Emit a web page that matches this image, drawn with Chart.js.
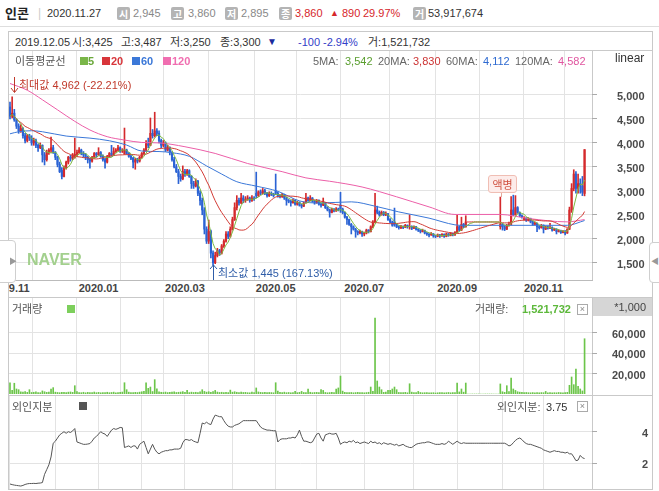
<!DOCTYPE html>
<html><head><meta charset="utf-8">
<script src="https://cdn.jsdelivr.net/npm/chart.js@4.4.1/dist/chart.umd.min.js"></script>
<style>
html,body{margin:0;padding:0;background:#fff;}
body{width:659px;height:491px;position:relative;overflow:hidden;font-family:"Liberation Sans","Noto Sans CJK KR",sans-serif;font-size:11px;color:#333;}
.t{position:absolute;white-space:nowrap;line-height:14px;height:14px;}
.ln{position:absolute;background:#c9c9c9;}
.ic{position:absolute;width:13px;height:13px;top:7px;background:#b4b4b4;color:#fff;border-radius:2px;font-size:10px;line-height:13px;text-align:center;font-family:"Noto Sans CJK KR",sans-serif;font-weight:bold;}
.sq{position:absolute;width:8px;height:8px;}
.xb{position:absolute;width:9px;height:9px;border:1px solid #aaa;color:#888;font-size:9px;line-height:9px;text-align:center;background:#fff;}
canvas{position:absolute;}
#xl{position:absolute;left:9px;top:280px;width:583px;height:17px;overflow:hidden;}
#xl div{position:absolute;top:1px;transform:translateX(-50%);font:bold 11px "Liberation Sans",sans-serif;color:#444;line-height:15px;white-space:nowrap;}
</style></head><body>

<!-- header -->
<div class="t" style="left:5px;top:4px;font-size:13px;font-weight:bold;font-family:'Noto Sans CJK KR';color:#222;line-height:18px;height:18px">인콘</div>
<div class="t" style="left:38px;top:6px;color:#ccc;font-size:12px">|</div>
<div class="t" style="left:47px;top:6px;color:#333">2020.11.27</div>
<div class="ic" style="left:117px">시</div><div class="t" style="left:133px;top:6px;color:#888">2,945</div>
<div class="ic" style="left:171px">고</div><div class="t" style="left:188px;top:6px;color:#888">3,860</div>
<div class="ic" style="left:225px">저</div><div class="t" style="left:241px;top:6px;color:#888">2,895</div>
<div class="ic" style="left:279px">종</div><div class="t" style="left:295px;top:6px;color:#d6262b">3,860</div>
<div class="t" style="left:330px;top:6px;color:#d6262b;font-size:9px">▲</div>
<div class="t" style="left:342px;top:6px;color:#d6262b">890</div>
<div class="t" style="left:363px;top:6px;color:#d6262b">29.97%</div>
<div class="ic" style="left:413px">거</div><div class="t" style="left:428px;top:6px;color:#333">53,917,674</div>

<!-- frame -->
<div class="ln" style="left:0;top:26px;width:659px;height:1px;background:#dedede"></div>
<div class="ln" style="left:8px;top:31px;width:645px;height:1px"></div>
<div class="ln" style="left:8px;top:31px;width:1px;height:459px"></div>
<div class="ln" style="left:652px;top:31px;width:1px;height:459px"></div>
<div class="ln" style="left:8px;top:50px;width:645px;height:1px"></div>
<div class="ln" style="left:592px;top:50px;width:1px;height:230px"></div>
<div class="ln" style="left:8px;top:280px;width:585px;height:1px;background:#bbb"></div>
<div class="ln" style="left:8px;top:297px;width:645px;height:1px"></div>
<div class="ln" style="left:592px;top:297px;width:1px;height:98px"></div>
<div class="ln" style="left:8px;top:395px;width:645px;height:1px"></div>
<div class="ln" style="left:592px;top:395px;width:1px;height:95px"></div>
<div class="ln" style="left:8px;top:489px;width:645px;height:1px"></div>

<!-- info row -->
<div class="t" style="left:15px;top:35px">2019.12.05</div>
<div class="t" style="left:72px;top:35px">시:3,425</div>
<div class="t" style="left:121px;top:35px">고:3,487</div>
<div class="t" style="left:170px;top:35px">저:3,250</div>
<div class="t" style="left:220px;top:35px">종:3,300</div>
<div class="t" style="left:267px;top:35px;color:#1b2b9c;font-size:10px">▼</div>
<div class="t" style="left:298px;top:35px;color:#3340c8">-100</div>
<div class="t" style="left:323px;top:35px;color:#3340c8">-2.94%</div>
<div class="t" style="left:368px;top:35px">거:1,521,732</div>

<canvas id="pc" width="643" height="229" style="left:9px;top:51px"></canvas>
<canvas id="vc" width="643" height="96" style="left:9px;top:298px"></canvas>
<canvas id="fc" width="643" height="93" style="left:9px;top:396px"></canvas>
<div id="xl"></div>

<!-- price legend -->
<div class="t" style="left:15px;top:54px;color:#555">이동평균선</div>
<div class="sq" style="left:80px;top:57px;background:#7ab648"></div><div class="t" style="left:88px;top:54px;color:#6aa83a;font-weight:bold">5</div>
<div class="sq" style="left:102px;top:57px;background:#d8353a"></div><div class="t" style="left:111px;top:54px;color:#d8353a;font-weight:bold">20</div>
<div class="sq" style="left:132px;top:57px;background:#3b78d8"></div><div class="t" style="left:141px;top:54px;color:#3b78d8;font-weight:bold">60</div>
<div class="sq" style="left:163px;top:57px;background:#f06eb0"></div><div class="t" style="left:172px;top:54px;color:#f06eb0;font-weight:bold">120</div>
<div class="t" style="left:313px;top:54px;color:#666">5MA:</div><div class="t" style="left:345px;top:54px;color:#5a9e2f">3,542</div>
<div class="t" style="left:378px;top:54px;color:#666">20MA:</div><div class="t" style="left:413px;top:54px;color:#cc3333">3,830</div>
<div class="t" style="left:446px;top:54px;color:#666">60MA:</div><div class="t" style="left:483px;top:54px;color:#2e6ad1">4,112</div>
<div class="t" style="left:515px;top:54px;color:#666">120MA:</div><div class="t" style="left:558px;top:54px;color:#e0559f">4,582</div>
<div class="t" style="left:615px;top:51px;color:#333;font-size:12px">linear</div>

<!-- annotations -->
<svg style="position:absolute;left:10px;top:77px" width="9" height="17"><path d="M4.5 0 V15 M1 11 L4.5 15.5 L8 11" stroke="#c0392b" fill="none" stroke-width="1"/></svg>
<div class="t" style="left:19px;top:78px;color:#c0392b">최대값 4,962 (-22.21%)</div>
<svg style="position:absolute;left:209px;top:264px" width="9" height="16"><path d="M4.5 1 V16 M1 5 L4.5 1 L8 5" stroke="#2f5da8" fill="none" stroke-width="1"/></svg>
<div class="t" style="left:218px;top:266px;color:#2f5da8">최소값 1,445 (167.13%)</div>
<div style="position:absolute;left:488px;top:175px;width:27px;height:16px;background:#fdecea;border:1px solid #f0beb4;border-radius:3px;color:#d0503f;font-size:11px;line-height:16px;text-align:center;font-family:'Noto Sans CJK KR'">액병</div>
<div style="position:absolute;left:501px;top:193px;width:1px;height:4px;background:#e6a899"></div>
<div class="t" style="left:27px;top:251px;font-size:16px;font-weight:bold;color:#a3d08e;line-height:18px;height:18px">NAVER</div>

<!-- side tabs -->
<div style="position:absolute;left:-5px;top:240px;width:19px;height:41px;border:1px solid #cfcfcf;border-radius:4px;background:#fff"></div>
<div class="t" style="left:9px;top:255px;color:#999;font-size:8px">▶</div>
<div style="position:absolute;left:649px;top:242px;width:19px;height:39px;border:1px solid #cfcfcf;border-radius:4px;background:#fff"></div>
<div class="t" style="left:651px;top:255px;color:#999;font-size:8px">◀</div>

<!-- volume header -->
<div class="t" style="left:12px;top:302px;color:#555">거래량</div>
<div class="sq" style="left:67px;top:305px;background:#7dcf5c"></div>
<div class="t" style="left:475px;top:302px;color:#555">거래량:</div>
<div class="t" style="left:522px;top:302px;color:#5cb83a;font-weight:bold">1,521,732</div>
<div class="xb" style="left:577px;top:304px">×</div>
<div style="position:absolute;left:593px;top:298px;width:59px;height:18px;background:#d6d6d6"></div>
<div class="t" style="left:600px;top:300px;width:46px;text-align:right;color:#444">*1,000</div>

<!-- foreign header -->
<div class="t" style="left:12px;top:400px;color:#555">외인지분</div>
<div class="sq" style="left:79px;top:402px;background:#555"></div>
<div class="t" style="left:497px;top:400px;color:#555">외인지분:</div>
<div class="t" style="left:546px;top:400px;color:#333">3.75</div>
<div class="xb" style="left:577px;top:401px">×</div>

<script>
// ---------- data ----------
const months = ['2019.11','2019.12','2020.01','2020.02','2020.03','2020.04','2020.05','2020.06','2020.07','2020.08','2020.09','2020.10','2020.11'];
const tradingDays = [21,20,20,20,22,20,19,22,23,20,21,19,20];
const axisLabels = ['2019.11','2020.01','2020.03','2020.05','2020.07','2020.09','2020.11'];
const priceTicks = [1500,2000,2500,3000,3500,4000,4500,5000];
const volumeTicks = [20000,40000,60000];
const foreignTicks = [2,4];

const openPrice = [
4750,4560,4620,4480,4350,4250,4300,4150,4050,4150,
4100,4000,4050,3950,3900,3950,3750,3650,3800,3850,
3900,3800,3700,3550,3425,3300,3480,3600,3700,3680,
3700,3760,3800,3850,3780,3750,3700,3650,3620,3700,
3780,3750,3800,3720,3650,3600,3720,3780,3750,3820,
3850,3900,3830,3780,3850,3780,3720,3680,3600,3650,
3620,3700,3780,3850,3980,3950,4200,4150,4250,4200,
4050,3950,4000,3850,3900,3800,3650,3500,3400,3300,
3250,3400,3350,3420,3300,3150,3100,3200,2950,2800,
2600,2200,1950,2150,1700,1500,1650,1750,1700,1850,
1950,2100,2050,2200,2400,2650,2800,2750,2850,2800,
2820,2850,2800,2850,2950,2900,2980,2950,3000,2950,
2900,2950,2930,3000,2950,2900,2880,2920,2850,2800,
2780,2750,2800,2720,2760,2700,2680,2750,2850,2800,
2850,2780,2750,2800,2720,2700,2750,2650,2600,2550,
2620,2580,2620,2700,2620,2550,2450,2400,2300,2250,
2200,2150,2120,2150,2100,2120,2180,2150,2250,2350,
2600,2550,2500,2550,2500,2520,2400,2350,2350,2290,
2250,2230,2260,2240,2280,2250,2260,2220,2250,2200,
2180,2150,2170,2120,2100,2080,2100,2060,2050,2080,
2060,2090,2050,2100,2070,2110,2080,2130,2250,2180,
2300,2250,2350,2350,2350,2350,2350,2350,2350,2350,
2350,2350,2350,2350,2350,2350,2350,2250,2300,2250,
2200,2280,2300,2600,2500,2650,2550,2480,2400,2430,
2380,2420,2350,2300,2320,2250,2230,2280,2200,2250,
2220,2240,2180,2200,2150,2170,2130,2160,2120,2200,
2600,3050,3350,3050,3150,3100,2945];
const highPrice = [
4850,4962,4700,4500,4400,4380,4320,4200,4180,4180,
4150,4100,4080,3980,4000,3960,3800,3850,3880,4120,
3950,3820,3720,3600,3487,3520,3620,3720,3740,3780,
4100,3850,3900,3870,3820,3780,3720,3680,3720,3800,
3800,3900,3820,3750,3680,3740,3800,3950,3900,3880,
3950,3920,3880,4310,3870,3800,3740,3700,3680,3680,
3720,3800,3880,4050,4100,4520,4280,4640,4300,4250,
4080,4050,4020,3950,3920,3820,3700,3550,3450,3350,
3520,3450,3450,3440,3320,3200,3250,3220,3000,2850,
2650,2250,2390,2180,1750,1720,1800,1780,1880,1980,
2150,2150,2250,2450,2750,2900,2850,2950,2900,2880,
2900,2870,2900,2880,3390,3000,3020,3050,3030,2970,
2980,2980,2950,3350,2980,2920,2950,2930,2870,2820,
2800,2830,2810,2780,2770,2720,2770,2950,2870,2900,
2860,2800,2820,2810,2740,2850,2760,2670,2620,2640,
2630,2650,2640,2970,2640,2560,2470,2410,2320,2270,
2220,2170,2180,2160,2140,2200,2190,2270,2380,2950,
2680,2580,2580,2570,2560,2530,2420,2370,2640,2310,
2270,2280,2270,2300,2290,2500,2270,2270,2260,2210,
2190,2200,2180,2130,2110,2130,2110,2070,2100,2090,
2110,2100,2120,2110,2130,2120,2150,2490,2270,2450,
2320,2480,2350,2350,2350,2350,2350,2350,2350,2350,
2350,2350,2350,2350,2350,2350,2350,2870,2320,2270,
2300,2350,2880,2910,2900,2670,2560,2500,2460,2440,
2440,2430,2370,2350,2330,2270,2300,2290,2260,2260,
2320,2250,2220,2210,2190,2180,2170,2170,2210,2660,
3150,3440,3400,3350,3250,3300,3860];
const lowPrice = [
4500,4520,4450,4300,4200,4220,4100,4000,4020,4050,
3950,3950,3900,3820,3880,3600,3540,3620,3760,3800,
3780,3650,3500,3380,3250,3290,3450,3560,3620,3650,
3680,3720,3780,3750,3700,3650,3580,3475,3600,3680,
3700,3740,3700,3620,3475,3580,3700,3720,3740,3800,
3830,3800,3800,3760,3760,3700,3650,3480,3450,3580,
3600,3680,3760,3830,3900,3940,4100,4120,4150,4000,
3900,3920,3820,3830,3750,3620,3480,3380,3150,3200,
3230,3300,3320,3280,3050,3050,3080,2900,2700,2500,
2100,1900,1900,1600,1445,1480,1620,1650,1680,1820,
1930,2000,2030,2180,2380,2600,2700,2730,2750,2760,
2800,2760,2780,2800,2850,2880,2920,2930,2920,2870,
2880,2900,2870,2920,2870,2850,2860,2820,2700,2750,
2680,2740,2700,2700,2680,2640,2670,2740,2780,2790,
2760,2720,2740,2700,2660,2690,2630,2580,2450,2540,
2560,2570,2580,2550,2520,2430,2300,2280,2100,2180,
2030,2080,2100,2050,2060,2100,2120,2140,2230,2330,
2520,2470,2490,2480,2480,2380,2330,2260,2260,2230,
2200,2210,2210,2230,2220,2200,2190,2210,2180,2150,
2120,2140,2100,2070,2040,2070,2030,2020,2040,2030,
2050,2030,2040,2050,2060,2060,2070,2120,2160,2170,
2230,2240,2350,2350,2350,2350,2350,2350,2350,2350,
2350,2350,2350,2350,2350,2350,2350,2200,2180,2170,
2190,2260,2290,2480,2490,2530,2460,2430,2390,2360,
2370,2330,2280,2290,2150,2200,2220,2120,2190,2200,
2210,2160,2170,2100,2140,2110,2120,2080,2110,2190,
2550,3000,2950,2950,2950,2900,2895];
const closePrice = [
4560,4620,4480,4350,4250,4300,4150,4050,4150,4100,
4000,4050,3950,3900,3950,3750,3650,3800,3850,3900,
3800,3700,3550,3400,3300,3480,3600,3700,3680,3750,
3760,3800,3850,3780,3750,3700,3650,3620,3700,3780,
3750,3800,3720,3650,3600,3720,3780,3750,3820,3850,
3900,3830,3850,3850,3780,3720,3680,3600,3650,3620,
3700,3780,3850,3980,3950,4200,4150,4250,4200,4050,
3950,4000,3850,3900,3800,3650,3500,3400,3300,3250,
3400,3350,3420,3300,3150,3100,3200,2950,2800,2600,
2200,1950,2150,1700,1500,1650,1750,1700,1850,1950,
2100,2050,2200,2400,2650,2800,2750,2850,2800,2820,
2850,2800,2850,2830,2900,2980,2950,3000,2950,2900,
2950,2930,2900,2950,2900,2880,2920,2850,2800,2780,
2750,2800,2720,2760,2700,2680,2750,2850,2800,2850,
2780,2750,2800,2720,2700,2750,2650,2600,2550,2620,
2580,2620,2600,2620,2550,2450,2400,2300,2250,2200,
2150,2120,2150,2100,2120,2180,2150,2250,2350,2600,
2550,2500,2550,2500,2520,2400,2350,2280,2290,2250,
2230,2260,2240,2280,2250,2260,2220,2250,2200,2180,
2150,2170,2120,2100,2080,2100,2060,2050,2080,2060,
2090,2050,2100,2070,2110,2080,2130,2250,2180,2300,
2250,2350,2350,2350,2350,2350,2350,2350,2350,2350,
2350,2350,2350,2350,2350,2350,2350,2300,2250,2200,
2280,2300,2600,2500,2650,2550,2480,2450,2430,2380,
2420,2350,2300,2320,2250,2230,2280,2200,2250,2220,
2240,2180,2200,2150,2170,2130,2160,2120,2200,2600,
3050,3350,3050,3150,3100,2970,3860];
// volume in thousands of shares
const volume = [
11000,3500,10500,4900,4200,2100,1800,2300,1600,4200,
1500,1700,2000,1400,1300,3000,2200,1600,1900,4900,
6200,1800,1500,1300,1522,1700,1400,1800,2000,1600,
8100,2400,1500,1300,1700,1200,1600,1400,1500,1900,
1300,1600,1200,1500,1400,1700,1300,1500,1800,1200,
1400,1600,1900,11000,4200,1800,1500,1300,1600,1400,
1800,2200,2500,11000,5500,6800,2400,14000,5000,2200,
1700,1500,1900,1400,1600,1800,2100,1500,1700,1900,
2300,1600,3500,1400,1800,1500,1700,1300,2000,4200,
2500,1800,2200,1600,2400,3500,1900,1500,1700,1400,
1600,1500,3800,1800,2200,1700,1400,1900,1500,1600,
1300,1200,1800,1500,5900,2000,1600,1400,1700,1300,
1500,1400,1200,11000,2800,1600,1400,1800,1300,1500,
1200,1400,2500,1300,1600,2500,1500,1400,4900,1700,
1300,1500,1600,1400,4200,3500,1500,1200,1400,1600,
1300,4900,5900,17500,2800,1600,1400,1300,1500,1200,
1400,1600,1300,1500,1200,1400,1700,6800,2500,74100,
12700,6800,4200,1600,1800,3500,3500,4900,6800,4200,
1500,1300,1400,1600,1200,10000,1800,1300,1400,2500,
1500,1200,1300,1400,1100,1200,1300,1000,1200,1300,
1400,1100,1300,1500,1200,1400,1300,10700,2000,4900,
1800,10700,0,0,0,0,0,0,0,0,
0,0,0,0,0,0,0,9800,2200,1600,
8100,2400,15600,4900,3500,2200,1800,1600,1400,1500,
1300,1200,1400,1100,1300,1200,1400,1300,2500,1200,
1400,1100,1300,1200,1500,1300,1200,1400,1600,8500,
16600,9100,24400,7500,4900,3000,53918];
const foreignShare = [
0.69,0.65,0.62,0.60,0.58,0.56,0.60,0.66,0.70,0.72,
0.72,0.73,0.72,0.74,0.75,0.78,1.30,1.60,1.90,2.40,
3.27,3.40,3.60,3.80,3.90,4.00,3.90,4.00,3.95,4.05,
4.20,3.35,3.30,3.25,3.20,3.20,3.22,3.25,3.40,3.60,
3.70,3.85,4.00,3.90,3.85,3.70,3.90,4.10,4.20,4.15,
4.20,4.27,4.25,3.00,3.05,3.10,3.00,3.10,3.10,2.90,
3.20,3.30,3.40,3.00,2.60,2.90,3.20,2.90,2.70,2.60,
2.70,2.75,2.80,2.80,2.85,2.85,2.90,2.90,2.90,2.95,
3.30,3.50,3.50,3.45,3.50,3.40,3.35,3.30,3.90,4.55,
4.50,4.60,4.50,4.45,4.80,5.05,5.00,4.95,4.95,4.70,
4.50,4.35,4.30,4.30,4.40,4.45,4.50,4.60,4.70,4.70,
4.70,4.70,4.70,4.70,4.70,4.50,4.30,4.20,4.15,4.10,
4.10,4.08,4.06,4.06,3.35,3.50,3.55,3.55,3.55,3.60,
3.60,3.65,3.60,3.80,4.10,3.70,3.40,3.40,3.35,3.30,
3.35,3.60,3.85,3.90,3.60,3.40,3.80,3.85,3.90,3.85,
3.85,3.90,3.60,3.20,3.30,3.35,3.30,3.40,3.35,3.45,
3.30,3.35,3.25,3.30,3.35,3.30,3.25,3.40,3.30,3.35,
3.25,3.30,3.20,3.30,3.25,3.20,3.25,3.20,3.15,3.20,
3.10,3.15,3.20,3.10,3.05,3.00,3.00,3.10,3.20,3.25,
3.27,3.30,3.30,3.35,3.35,3.30,3.25,3.20,3.20,3.20,
3.25,3.20,3.25,3.40,3.30,3.20,3.30,3.40,3.30,3.25,
3.30,3.27,3.27,3.27,3.27,3.27,3.27,3.27,3.27,3.27,
3.27,3.27,3.27,3.27,3.27,3.27,3.27,3.27,3.27,3.27,
3.20,3.10,3.15,3.30,3.45,3.55,3.60,3.50,3.35,3.25,
3.20,3.20,3.15,3.10,3.05,3.00,2.95,2.85,2.80,2.75,
2.70,2.75,2.80,2.75,2.75,2.70,2.70,2.65,2.70,2.60,
2.60,2.40,2.17,2.20,2.50,2.35,2.30];
// 60- and 120-day averages: [day index, value]
const ma60Points = [[0,4190],[4,4233],[10,4254],[15,4233],[26,4143],[37,4100],[46,4045],[54,3955],[61,3830],[69,3820],[75,3795],[83,3720],[91,3520],[98,3350],[105,3190],[114,3098],[124,2990],[134,2790],[143,2745],[158,2770],[169,2680],[180,2560],[194,2430],[206,2290],[210,2280],[258,2280],[266,2380]];
const ma120Points = [[0,5240],[8,5100],[15,4900],[22,4690],[30,4450],[37,4270],[45,4130],[53,4060],[61,4010],[69,4000],[81,3920],[95,3780],[110,3570],[126,3400],[137,3270],[148,3200],[163,3080],[179,2875],[194,2665],[206,2507],[227,2507],[240,2423],[258,2352],[266,2400]];

// ---------- derived ----------
const monthStarts = [];
tradingDays.reduce((acc, d) => { monthStarts.push(acc); return acc + d; }, 0);
function movingAvg(arr, n) {
  return arr.map((_, i) => {
    const s = Math.max(0, i - n + 1);
    const w = arr.slice(s, i + 1);
    return { x: i, y: w.reduce((a, b) => a + b, 0) / w.length };
  });
}
const UP = '#d42a2c', DOWN = '#2b63d4';
const candleColor = closePrice.map((c, i) => c >= openPrice[i] ? UP : DOWN);
const wick = closePrice.map((_, i) => ({ x: i, y: [lowPrice[i], highPrice[i]] }));
const body = closePrice.map((c, i) => ({ x: i, y: [openPrice[i], c] }));

Chart.defaults.font.family = '"Liberation Sans", sans-serif';
const XMIN = -0.46, XMAX = 269.44;
const GRID = '#e3e3e3';
function xScale() {
  return {
    type: 'linear', min: XMIN, max: XMAX, offset: false,
    grid: { color: GRID, drawTicks: false },
    border: { display: false },
    ticks: { display: false },
    afterBuildTicks: s => { s.ticks = monthStarts.map(v => ({ value: v })); },
    afterFit: s => { s.height = 0; s.paddingLeft = 0; s.paddingRight = 0; }
  };
}
function yScale(min, max, ticks, pad, fmt, off) {
  return {
    position: 'right', min, max,
    grid: { color: GRID, tickLength: 5, tickColor: '#aaa' },
    border: { display: false },
    ticks: { padding: pad, crossAlign: 'near', color: '#4a4a4a', labelOffset: off,
             font: { size: 11, weight: 'bold' }, callback: fmt },
    afterBuildTicks: s => { s.ticks = ticks.map(v => ({ value: v })); },
    afterFit: s => { s.width = 60; s.paddingTop = 0; s.paddingBottom = 0; }
  };
}
const baseOpts = {
  responsive: false, animation: false, events: [],
  layout: { padding: 0 },
  plugins: { legend: { display: false }, tooltip: { enabled: false } }
};
const fmtNum = v => Number(v).toLocaleString('en-US');

const priceChart = new Chart(document.getElementById('pc'), {
  type: 'bar',
  data: { datasets: [
    { type: 'line', data: movingAvg(closePrice, 5), borderColor: '#7cb940', borderWidth: 1, pointRadius: 0, order: 0 },
    { type: 'line', data: movingAvg(closePrice, 20), borderColor: '#d23b35', borderWidth: 1, pointRadius: 0, order: 0 },
    { type: 'line', data: ma60Points.map(p => ({ x: p[0], y: p[1] })), borderColor: '#3b78d8', borderWidth: 1, pointRadius: 0, cubicInterpolationMode: 'monotone', order: 0 },
    { type: 'line', data: ma120Points.map(p => ({ x: p[0], y: p[1] })), borderColor: '#ec5fa8', borderWidth: 1, pointRadius: 0, cubicInterpolationMode: 'monotone', order: 0 },
    { type: 'bar', data: body, backgroundColor: candleColor, barThickness: 1.5, grouped: false, order: 1 },
    { type: 'bar', data: wick, backgroundColor: candleColor, barThickness: 1, grouped: false, order: 2 }
  ]},
  options: Object.assign({}, baseOpts, {
    scales: { x: xScale(), y: yScale(1139, 5918, priceTicks, 20, fmtNum, 2) }
  })
});

new Chart(document.getElementById('vc'), {
  type: 'bar',
  data: { datasets: [
    { data: volume.map((v, i) => ({ x: i, y: v })), backgroundColor: '#6cc54a', barThickness: 1 }
  ]},
  options: Object.assign({}, baseOpts, {
    scales: { x: xScale(), y: yScale(0, 93660, volumeTicks, 15, fmtNum, 2) }
  })
});

new Chart(document.getElementById('fc'), {
  type: 'line',
  data: { datasets: [
    { data: foreignShare.map((v, i) => ({ x: i, y: v })), borderColor: '#555', borderWidth: 1, pointRadius: 0 }
  ]},
  options: Object.assign({}, baseOpts, {
    scales: { x: xScale(), y: yScale(0.373, 6.26, foreignTicks, 45, v => String(v), 2) }
  })
});

// month labels below the price panel
const xs = priceChart.scales.x;
const xl = document.getElementById('xl');
months.forEach((m, k) => {
  if (!axisLabels.includes(m)) return;
  const d = document.createElement('div');
  d.textContent = m;
  d.style.left = xs.getPixelForValue(monthStarts[k]) + 'px';
  xl.appendChild(d);
});
</script>
</body></html>
